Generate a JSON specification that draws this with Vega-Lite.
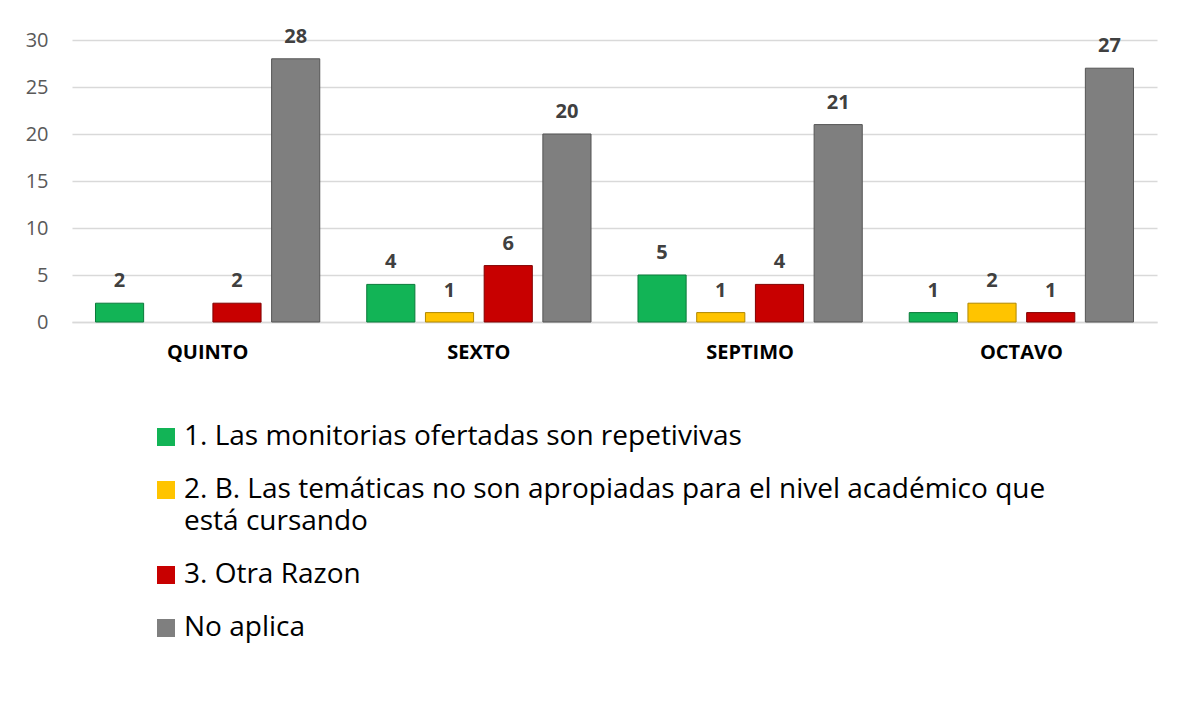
{
  "$schema": "https://vega.github.io/schema/vega-lite/v6.json",
  "width": 1085,
  "height": 282,
  "autosize": {"type": "none"},
  "padding": {"left": 72, "top": 40, "right": 29, "bottom": 401},
  "background": "white",
  "config": {"view": {"stroke": null}},
  "data": {
    "values": [
      {"grado": "QUINTO", "serie": "1. Las monitorias ofertadas son repetivivas", "valor": 2},
      {"grado": "QUINTO", "serie": "3. Otra Razon", "valor": 2},
      {"grado": "QUINTO", "serie": "No aplica", "valor": 28},
      {"grado": "SEXTO", "serie": "1. Las monitorias ofertadas son repetivivas", "valor": 4},
      {"grado": "SEXTO", "serie": "2. B. Las temáticas no son apropiadas para el nivel académico que está cursando", "valor": 1},
      {"grado": "SEXTO", "serie": "3. Otra Razon", "valor": 6},
      {"grado": "SEXTO", "serie": "No aplica", "valor": 20},
      {"grado": "SEPTIMO", "serie": "1. Las monitorias ofertadas son repetivivas", "valor": 5},
      {"grado": "SEPTIMO", "serie": "2. B. Las temáticas no son apropiadas para el nivel académico que está cursando", "valor": 1},
      {"grado": "SEPTIMO", "serie": "3. Otra Razon", "valor": 4},
      {"grado": "SEPTIMO", "serie": "No aplica", "valor": 21},
      {"grado": "OCTAVO", "serie": "1. Las monitorias ofertadas son repetivivas", "valor": 1},
      {"grado": "OCTAVO", "serie": "2. B. Las temáticas no son apropiadas para el nivel académico que está cursando", "valor": 2},
      {"grado": "OCTAVO", "serie": "3. Otra Razon", "valor": 1},
      {"grado": "OCTAVO", "serie": "No aplica", "valor": 27}
    ]
  },
  "encoding": {
    "x": {
      "field": "grado", "type": "nominal",
      "sort": ["QUINTO", "SEXTO", "SEPTIMO", "OCTAVO"],
      "scale": {"paddingInner": 0, "paddingOuter": 0},
      "axis": {"title": null, "labelAngle": 0, "ticks": false, "domainColor": "#d9d9d9", "domainWidth": 1.5, "labelFont": "Open Sans", "labelFontSize": 20, "labelFontWeight": "bold", "labelColor": "#000000", "labelPadding": 20}
    },
    "xOffset": {
      "field": "serie", "type": "nominal",
      "sort": ["1. Las monitorias ofertadas son repetivivas", "2. B. Las temáticas no son apropiadas para el nivel académico que está cursando", "3. Otra Razon", "No aplica"],
      "scale": {"paddingInner": 0.18, "paddingOuter": 0.4}
    },
    "y": {
      "field": "valor", "type": "quantitative",
      "scale": {"domain": [0, 30]},
      "axis": {"title": null, "values": [0, 5, 10, 15, 20, 25, 30], "domain": false, "ticks": false, "gridColor": "#d9d9d9", "gridWidth": 1.5, "labelFont": "Open Sans", "labelFontSize": 20, "labelColor": "#595959", "labelPadding": 24}
    }
  },
  "layer": [
    {
      "mark": {"type": "bar", "strokeWidth": 1},
      "encoding": {
        "color": {
          "field": "serie", "type": "nominal",
          "sort": ["1. Las monitorias ofertadas son repetivivas", "2. B. Las temáticas no son apropiadas para el nivel académico que está cursando", "3. Otra Razon", "No aplica"],
          "scale": {"range": ["#12b456", "#ffc400", "#c80000", "#7f7f7f"]},
          "legend": {
            "title": null,
            "orient": "none",
            "legendX": 80,
            "legendY": 383,
            "direction": "vertical",
            "symbolType": "square",
            "symbolSize": 324,
            "symbolStrokeWidth": 0,
            "labelFont": "Open Sans",
            "labelFontSize": 28,
            "labelColor": "#000000",
            "labelLimit": 1100,
            "labelOffset": 4,
            "rowPadding": 25,
            "labelExpr": "indexof(datum.label, '2. B.') == 0 ? ['2. B. Las temáticas no son apropiadas para el nivel académico que', 'está cursando'] : datum.label",
            "encode": {"labels": {"update": {"lineHeight": {"value": 32}}}}
          }
        },
        "stroke": {
          "field": "serie", "type": "nominal", "legend": null,
          "sort": ["1. Las monitorias ofertadas son repetivivas", "2. B. Las temáticas no son apropiadas para el nivel académico que está cursando", "3. Otra Razon", "No aplica"],
          "scale": {"range": ["#0a7a3a", "#b08800", "#800000", "#555555"]}
        }
      }
    },
    {
      "mark": {"type": "text", "baseline": "alphabetic", "dy": -16, "font": "Open Sans", "fontSize": 20, "fontWeight": "bold", "color": "#404040"},
      "encoding": {"text": {"field": "valor", "type": "quantitative"}}
    }
  ]
}
